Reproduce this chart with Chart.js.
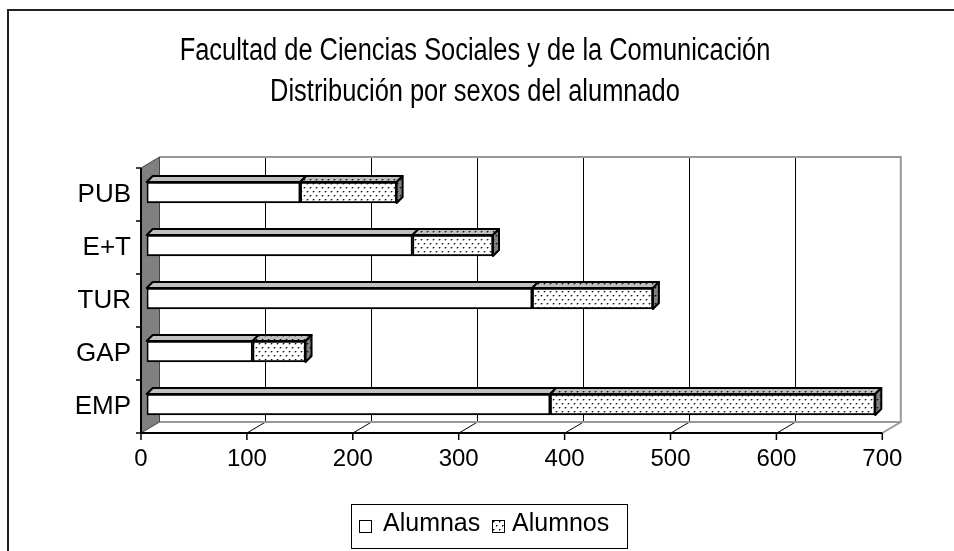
<!DOCTYPE html>
<html>
<head>
<meta charset="utf-8">
<script src="https://cdn.jsdelivr.net/npm/chart.js@4.4.1/dist/chart.umd.min.js"></script>
<style>
    html, body { margin: 0; padding: 0; background: #fff; }
    #wrap { position: relative; width: 954px; height: 551px; }
</style>
</head>
<body>
<div id="wrap"><canvas id="sexChart"></canvas></div>
<script>
const titleLines = ['Facultad de Ciencias Sociales y de la Comunicación', 'Distribución por sexos del alumnado'];
const categories = ['PUB', 'E+T', 'TUR', 'GAP', 'EMP'];
const seriesNames = ['Alumnas', 'Alumnos'];
const alumnas = [145, 251, 364, 100, 381];
const alumnos = [91, 76, 114, 50, 307];
const xTicks = [0, 100, 200, 300, 400, 500, 600, 700];

const FONT = 'Liberation Sans, Arial, sans-serif';
const canvas = document.getElementById('sexChart');
const ctx = canvas.getContext('2d');

// dotted fill like the Excel pattern
function dots(bg) {
    const c = document.createElement('canvas');
    c.width = 6; c.height = 8;
    const g = c.getContext('2d');
    g.fillStyle = bg;
    g.fillRect(0, 0, 6, 8);
    g.fillStyle = '#000';
    g.fillRect(1, 1, 1, 1);
    g.fillRect(4, 5, 1, 1);
    g.fillStyle = 'rgba(0,0,0,0.5)';
    g.fillRect(2, 1, 1, 1);
    g.fillRect(5, 5, 1, 1);
    g.fillRect(1, 2, 1, 1);
    g.fillRect(4, 6, 1, 1);
    return ctx.createPattern(c, 'repeat');
}
const dotsFront = dots('#ffffff');
const dotsTop = dots('#c0c0c0');
const dotsSide = dots('#808080');

// depth offsets: walls, bar depth, bar shift inside the box
const wall = { dx: 18.5, dy: -11 };
const bar3d = { dx: 6, dy: -6 };
const shift = { dx: 5.7, dy: -2 };

function face(c, pts, fill) {
    c.beginPath();
    c.moveTo(pts[0][0], pts[0][1]);
    for (let i = 1; i < pts.length; i++) c.lineTo(pts[i][0], pts[i][1]);
    c.closePath();
    c.fillStyle = fill;
    c.fill();
    c.stroke();
}

const scene3d = {
    id: 'scene3d',
    beforeDraw(chart) {
        const c = chart.ctx;
        const a = chart.chartArea;
        const x = chart.scales.x;
        const L = a.left, R = a.right, T = a.top, B = a.bottom;
        c.save();

        // outer frame (cropped at right / bottom)
        c.strokeStyle = '#222';
        c.lineWidth = 2;
        c.strokeRect(8, 10, 1200, 1200);

        // title, narrow and tall like the original
        c.fillStyle = '#000';
        c.font = '31px ' + FONT;
        c.textAlign = 'center';
        c.textBaseline = 'alphabetic';
        [60, 101].forEach((base, i) => {
            c.save();
            c.translate(475, base);
            c.scale(0.82, 1);
            c.fillText(titleLines[i], 0, 0);
            c.restore();
        });

        // back wall
        c.fillStyle = '#fff';
        c.fillRect(L + wall.dx, T + wall.dy, R - L, B - T);
        c.strokeStyle = '#000';
        c.lineWidth = 1;
        x.ticks.forEach((t, i) => {
            if (i === 0 || i === x.ticks.length - 1) return;
            const px = Math.round(x.getPixelForValue(t.value) + wall.dx) + 0.5;
            c.beginPath();
            c.moveTo(px, T + wall.dy);
            c.lineTo(px, B + wall.dy);
            c.stroke();
            // floor diagonal
            c.beginPath();
            c.moveTo(px - wall.dx, B);
            c.lineTo(px, B + wall.dy);
            c.stroke();
        });
        c.strokeStyle = '#999';
        c.lineWidth = 2;
        c.beginPath();
        c.moveTo(L + wall.dx, T + wall.dy);
        c.lineTo(R + wall.dx, T + wall.dy);
        c.lineTo(R + wall.dx, B + wall.dy);
        c.lineTo(R, B);
        c.moveTo(L + wall.dx, B + wall.dy);
        c.lineTo(R + wall.dx, B + wall.dy);
        c.stroke();

        // left wall
        c.strokeStyle = '#444';
        c.lineWidth = 1;
        face(c, [[L, T], [L + wall.dx, T + wall.dy], [L + wall.dx, B + wall.dy], [L, B]], '#808080');

        // front axes
        c.strokeStyle = '#000';
        c.lineWidth = 2;
        c.beginPath();
        c.moveTo(L, T);
        c.lineTo(L, B);
        c.lineTo(R, B);
        c.stroke();
        c.lineWidth = 1.5;
        x.ticks.forEach(t => {
            const px = x.getPixelForValue(t.value);
            c.beginPath();
            c.moveTo(px, B);
            c.lineTo(px, B + 7);
            c.stroke();
        });
        const n = categories.length;
        for (let i = 0; i <= n; i++) {
            const py = T + i * (B - T) / n;
            c.beginPath();
            c.moveTo(L - 5, py);
            c.lineTo(L, py);
            c.stroke();
        }
        c.restore();
    },
    beforeDatasetsDraw(chart) {
        const c = chart.ctx;
        c.save();
        c.translate(shift.dx, shift.dy);
        c.strokeStyle = '#000';
        c.lineWidth = 2;
        c.lineJoin = 'round';
        const last = chart.data.datasets.length - 1;
        chart.data.datasets.forEach((ds, di) => {
            chart.getDatasetMeta(di).data.forEach(el => {
                const p = el.getProps(['x', 'y', 'base', 'height'], true);
                const x0 = Math.min(p.base, p.x), x1 = Math.max(p.base, p.x);
                const yT = p.y - p.height / 2, yB = p.y + p.height / 2;
                face(c, [[x0, yT], [x1, yT], [x1 + bar3d.dx, yT + bar3d.dy], [x0 + bar3d.dx, yT + bar3d.dy]],
                    di === 0 ? '#c0c0c0' : dotsTop);
                if (di === last) {
                    face(c, [[x1, yT], [x1 + bar3d.dx, yT + bar3d.dy], [x1 + bar3d.dx, yB + bar3d.dy], [x1, yB]], dotsSide);
                }
            });
        });
    },
    afterDatasetsDraw(chart) {
        chart.ctx.restore();
    },
    afterDraw(chart) {
        const c = chart.ctx;
        c.save();
        // legend box
        c.strokeStyle = '#000';
        c.lineWidth = 1;
        c.strokeRect(351.5, 504.5, 276, 44);
        c.font = '25px ' + FONT;
        c.textBaseline = 'alphabetic';
        const marks = [
            { bx: 359, tx: 383, fill: '#fff' },
            { bx: 492, tx: 512, fill: dotsFront }
        ];
        seriesNames.forEach((name, i) => {
            const m = marks[i];
            c.fillStyle = m.fill;
            c.fillRect(m.bx + 0.5, 520.5, 12, 12);
            c.strokeRect(m.bx + 0.5, 520.5, 12, 12);
            c.fillStyle = '#000';
            c.fillText(name, m.tx, 531);
        });
        c.restore();
    }
};

new Chart(ctx, {
    type: 'bar',
    data: {
        labels: categories,
        datasets: [{
            label: seriesNames[0],
            data: alumnas,
            backgroundColor: '#ffffff',
            borderColor: '#000',
            borderWidth: 2,
            borderSkipped: false,
            barThickness: 21
        }, {
            label: seriesNames[1],
            data: alumnos,
            backgroundColor: dotsFront,
            borderColor: '#000',
            borderWidth: 2,
            borderSkipped: false,
            barThickness: 21
        }]
    },
    options: {
        indexAxis: 'y',
        responsive: true,
        maintainAspectRatio: false,
        animation: false,
        layout: { padding: { left: 0, right: 71.7, top: 168, bottom: 0 } },
        scales: {
            x: {
                stacked: true,
                min: xTicks[0],
                max: xTicks[xTicks.length - 1],
                ticks: { stepSize: xTicks[1] - xTicks[0], color: '#000', padding: 12, font: { size: 24, family: FONT } },
                grid: { display: false, drawTicks: false },
                border: { display: false },
                afterFit: s => { s.height = 118; }
            },
            y: {
                stacked: true,
                ticks: { color: '#000', padding: 10, font: { size: 26, family: FONT } },
                grid: { display: false, drawTicks: false },
                border: { display: false },
                afterFit: s => { s.width = 141; }
            }
        },
        plugins: {
            title: { display: false },
            legend: { display: false },
            tooltip: { enabled: false }
        }
    },
    plugins: [scene3d]
});
</script>
</body>
</html>
